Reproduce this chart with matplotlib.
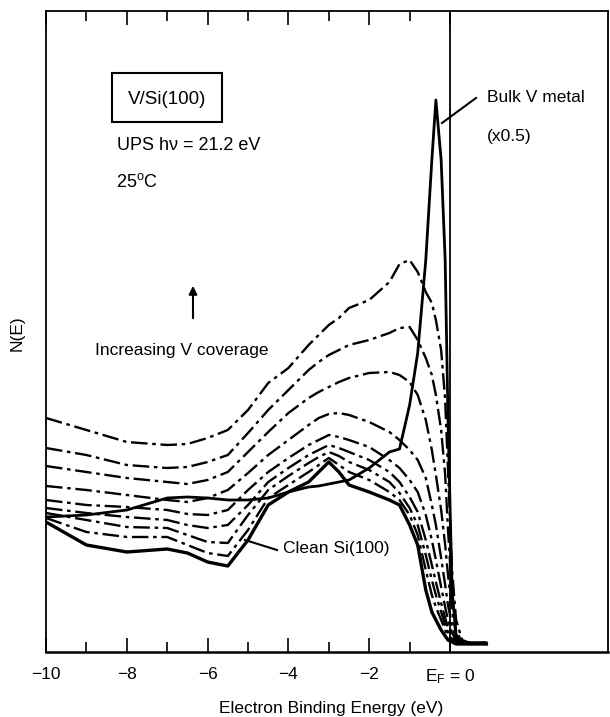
import matplotlib
matplotlib.use('Agg')
import matplotlib.pyplot as plt
from matplotlib.lines import Line2D
from matplotlib.patches import Rectangle

plt.rcParams['font.family'] = ['Liberation Sans', 'DejaVu Sans']
plt.rcParams['mathtext.fontset'] = 'custom'
plt.rcParams['mathtext.rm'] = 'Liberation Sans'
plt.rcParams['mathtext.it'] = 'Liberation Sans:italic'

# Electron binding energy grid (eV)
energy = [-10, -9, -8, -7, -6.5, -6, -5.5, -5, -4.5, -4, -3.5, -3.25, -3, -2.75, -2.5,
          -2, -1.5, -1.25, -1, -0.8, -0.6, -0.45, -0.35, -0.22, -0.12, -0.05, 0.05,
          0.15, 0.3, 0.5, 0.9]

# N(E), arbitrary units; coverage curves from highest (cov1) to lowest (cov8) V coverage
cov1 = [234, 222, 210, 207, 208, 214, 222, 242, 269, 284, 307, 317, 327, 334, 344,
        352, 370, 388, 392, 380, 360, 349, 332, 302, 252, 182, 82, 32, 12, 9, 9]
cov2 = [204, 197, 187, 184, 185, 190, 197, 219, 242, 262, 282, 290, 297, 302, 307,
        312, 319, 324, 325, 312, 294, 277, 257, 222, 177, 122, 57, 20, 11, 9, 9]
cov3 = [186, 180, 174, 170, 168, 172, 180, 200, 220, 239, 254, 260, 265, 270, 274,
        279, 280, 277, 270, 257, 232, 202, 177, 142, 107, 77, 42, 17, 10, 9, 9]
cov4 = [166, 162, 157, 152, 150, 154, 162, 179, 197, 212, 227, 234, 238, 239, 237,
        230, 220, 212, 202, 192, 174, 147, 127, 94, 67, 47, 27, 14, 10, 9, 9]
cov5 = [152, 147, 145, 142, 138, 137, 142, 162, 180, 194, 207, 212, 217, 215, 212,
        205, 192, 184, 172, 160, 137, 112, 92, 65, 45, 32, 19, 12, 9, 9, 9]
cov6 = [144, 139, 135, 132, 127, 124, 127, 147, 170, 184, 197, 202, 207, 204, 200,
        192, 180, 170, 155, 140, 112, 87, 70, 49, 34, 24, 15, 11, 9, 9, 9]
cov7 = [139, 132, 125, 124, 117, 110, 109, 137, 162, 176, 189, 195, 200, 196, 190,
        182, 170, 159, 144, 127, 97, 72, 57, 40, 27, 20, 13, 10, 9, 9, 9]
cov8 = [134, 120, 115, 115, 107, 99, 96, 122, 154, 167, 180, 187, 194, 187, 180,
        172, 160, 152, 137, 117, 82, 57, 45, 32, 22, 16, 12, 10, 9, 9, 9]
clean_si = [130, 107, 100, 103, 99, 90, 86, 112, 147, 160, 170, 180, 190, 180, 167,
            160, 152, 147, 127, 107, 62, 40, 32, 22, 16, 12, 10, 8, 8, 8, 8]
bulk_v = [135, 137, 142, 154, 155, 154, 152, 152, 154, 160, 165, 166, 168, 170, 172,
          184, 200, 203, 247, 299, 392, 492, 552, 492, 392, 232, 62, 17, 10, 9, 9]

xtick_values = [-10, -8, -6, -4, -2, 0]
xtick_labels = ['\u221210', '\u22128', '\u22126', '\u22124', '\u22122',
                r'E$_{\mathregular{F}}$ = 0']
minor_tick_values = [-9, -7, -5, -3, -1]

W, H = 610, 717
fig = plt.figure(figsize=(W / 100, H / 100), dpi=100)
ax = fig.add_axes([46 / W, (H - 652) / H, (608 - 46) / W, (652 - 11) / H])
ax.set_xlim(-10, 3.91)
ax.set_ylim(0, 641)

dashdot = (0, (7, 2, 1.5, 2))
for series in [cov1, cov2, cov3, cov4, cov5, cov6, cov7, cov8]:
    ax.plot(energy, series, color='black', lw=1.7, linestyle=dashdot)
ax.plot(energy, clean_si, color='black', lw=2.4)
ax.plot(energy, bulk_v, color='black', lw=2.0)

ax.axvline(0, color='black', lw=1.3)

ax.set_xticks(xtick_values)
ax.set_xticklabels(xtick_labels, fontsize=12.5)
ax.set_xticks(minor_tick_values, minor=True)
ax.tick_params(axis='x', which='major', direction='in', length=10, width=1.2,
               top=True, pad=11)
ax.tick_params(axis='x', which='minor', direction='in', length=7, width=1.2, top=True)
ax.set_yticks([])
for side in ['left', 'top', 'right']:
    ax.spines[side].set_linewidth(1.3)
ax.spines['bottom'].set_linewidth(1.8)


def fx(px):
    return px / W


def fy(py):
    return 1 - py / H


fs = 12.5
fig.add_artist(Rectangle((fx(112), fy(122)), 110 / W, 49 / H, transform=fig.transFigure,
                         fill=False, lw=1.5, ec='black'))
fig.text(fx(167), fy(99), 'V/Si(100)', ha='center', va='center', fontsize=13.5)
fig.text(fx(117), fy(146), 'UPS h\u03bd = 21.2 eV', ha='left', va='center', fontsize=13)
fig.text(fx(116), fy(182), r'25$^{\mathregular{o}}$C', ha='left', va='center', fontsize=13)
fig.text(fx(95), fy(350), 'Increasing V coverage', ha='left', va='center', fontsize=fs)
fig.text(fx(487), fy(97), 'Bulk V metal', ha='left', va='center', fontsize=fs)
fig.text(fx(487), fy(136), '(x0.5)', ha='left', va='center', fontsize=fs)
fig.text(fx(283), fy(548), 'Clean Si(100)', ha='left', va='center', fontsize=fs)
fig.text(fx(331), fy(708), 'Electron Binding Energy (eV)', ha='center', va='center',
         fontsize=fs)
fig.text(fx(17), fy(333), 'N(E)', ha='center', va='center', rotation=90, fontsize=fs)

ax.annotate('', xy=(193, H - 283), xycoords='figure pixels',
            xytext=(193, H - 321), textcoords='figure pixels',
            arrowprops=dict(arrowstyle='-|>', lw=1.5, color='black',
                            mutation_scale=12))

fig.add_artist(Line2D([fx(476), fx(442)], [fy(98), fy(123)], transform=fig.transFigure,
                      color='black', lw=1.5))
fig.add_artist(Line2D([fx(245), fx(277)], [fy(540), fy(550)], transform=fig.transFigure,
                      color='black', lw=1.5))

fig.savefig('out.png', dpi=100)
